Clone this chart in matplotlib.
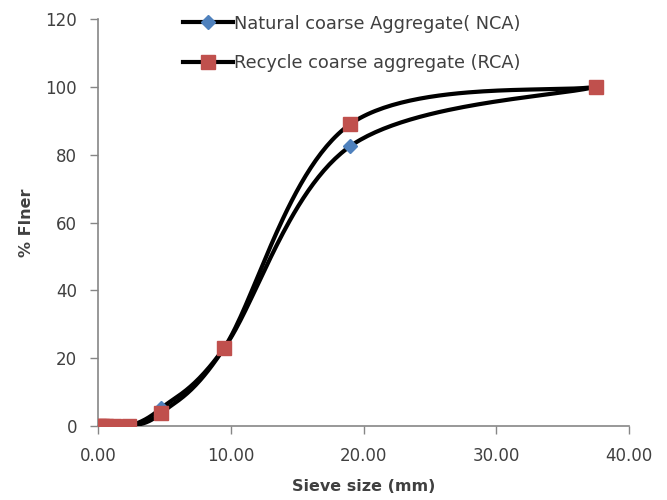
import numpy as np
import matplotlib
matplotlib.use("Agg")
import matplotlib.pyplot as plt

sieve_mm = [0.075, 0.15, 0.3, 0.6, 1.18, 2.36, 4.75, 9.5, 19.0, 37.5]
nca_finer = [0, 0, 0, 0, 0, 0, 5.2, 23, 82.5, 100]
rca_finer = [0, 0, 0, 0, 0, 0, 3.8, 23, 89, 100]

x_ticks = [0, 10, 20, 30, 40]
x_tick_labels = ["0.00", "10.00", "20.00", "30.00", "40.00"]
y_ticks = [0, 20, 40, 60, 80, 100, 120]


def smooth(xs, ys, n=60):
    """Excel-like smoothed line: Catmull-Rom bezier through points."""
    P = np.column_stack([xs, ys]).astype(float)
    m = len(P)
    out = []
    for i in range(m - 1):
        p0 = P[i - 1] if i > 0 else P[i]
        p1 = P[i]
        p2 = P[i + 1]
        p3 = P[i + 2] if i + 2 < m else P[i + 1]
        c1 = p1 + (p2 - p0) / 6.0
        c2 = p2 - (p3 - p1) / 6.0
        t = np.linspace(0, 1, n)[:, None]
        seg = ((1 - t) ** 3) * p1 + 3 * ((1 - t) ** 2) * t * c1 + 3 * (1 - t) * t ** 2 * c2 + t ** 3 * p2
        out.append(seg if i == 0 else seg[1:])
    out = np.vstack(out)
    return out[:, 0], out[:, 1]


plt.rcParams['font.family'] = ['DejaVu Sans']

fig = plt.figure(figsize=(6.67, 5.0), dpi=100)
ax = fig.add_axes([0.147, 0.148, 0.796, 0.814])

gray = "#868686"
text_col = "#404040"
lw = 3.0

sx, sy = smooth(sieve_mm, nca_finer)
ax.plot(sx, sy, color="black", lw=lw, zorder=2, solid_capstyle="round")
ax.plot(sieve_mm, nca_finer, linestyle="none", marker="D", markersize=7,
        color="#4F81BD", zorder=3)
sx2, sy2 = smooth(sieve_mm, rca_finer)
ax.plot(sx2, sy2, color="black", lw=lw, zorder=4, solid_capstyle="round")
ax.plot(sieve_mm, rca_finer, linestyle="none", marker="s", markersize=10.5,
        color="#C0504D", zorder=5)

# legend proxies
h1, = ax.plot([], [], color="black", lw=lw, marker="D", markersize=7,
              markerfacecolor="#4F81BD", markeredgecolor="#4F81BD")
h2, = ax.plot([], [], color="black", lw=lw, marker="s", markersize=10.5,
              markerfacecolor="#C0504D", markeredgecolor="#C0504D")
leg = ax.legend([h1, h2], ["Natural coarse Aggregate( NCA)", "Recycle coarse aggregate (RCA)"],
                loc="upper left", bbox_to_anchor=(0.13, 1.05), frameon=False,
                fontsize=12.8, handlelength=2.8, labelspacing=1.2, handletextpad=0.05)
for t in leg.get_texts():
    t.set_color(text_col)

ax.set_xlim(0, 40)
ax.set_ylim(0, 120)
ax.set_xticks(x_ticks)
ax.set_xticklabels(x_tick_labels)
ax.set_yticks(y_ticks)

for s in ["top", "right"]:
    ax.spines[s].set_visible(False)
for s in ["left", "bottom"]:
    ax.spines[s].set_color(gray)
    ax.spines[s].set_linewidth(1.2)
ax.tick_params(axis="both", direction="out", length=6, width=1, color=gray,
               labelsize=12, labelcolor=text_col)
ax.tick_params(axis="x", pad=9)
ax.tick_params(axis="y", pad=9)

ax.set_xlabel("Sieve size (mm)", fontsize=11.5, fontweight="bold", color=text_col, labelpad=10)
ax.set_ylabel("% Flner", fontsize=11.5, fontweight="bold", color=text_col, labelpad=8)

fig.savefig("out.png", dpi=100)
